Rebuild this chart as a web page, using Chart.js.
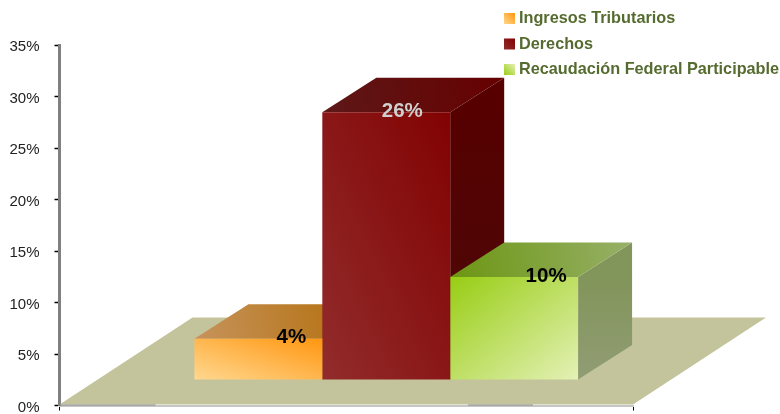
<!DOCTYPE html>
<html>
<head>
<meta charset="utf-8">
<title>Recaudación</title>
<script src="https://cdn.jsdelivr.net/npm/chart.js@4"></script>
<style>
html, body { margin: 0; padding: 0; background: #fff; }
canvas { display: block; }
</style>
</head>
<body>
<canvas id="chart" width="780" height="414"></canvas>
<script>
var categories = [''];
var seriesNames = ['Ingresos Tributarios', 'Derechos', 'Recaudación Federal Participable'];
var seriesValues = [4, 26, 10];
var yTicks = [0, 5, 10, 15, 20, 25, 30, 35];

// face colours, each pair runs from the first corner of the face to the opposite one
var frontColors = [['#ffd890', '#ff9610'], ['#922c2c', '#820202'], ['#98cd14', '#e4f1b6']];
var frontFlip = [true, true, false];
var topColors = [['#c6935c', '#b26c04'], ['#5e1818', '#660000'], ['#6c9612', '#97b068']];
var sideColors = [['#a86a10', '#a86a10'], ['#560000', '#4c0a0a'], ['#82955a', '#919c74']];
var labelColors = ['#000000', '#cfcfcf', '#000000'];
var labelShift = [33, 16, 32];
var axisFont = { family: '"Liberation Sans", Arial, sans-serif', size: 15 };

// how far the bars stand back on the floor, and how deep each bar is
var standX = 40, standY = -25.5;
var depthX = 54, depthY = -34.5;
var floorX = 133, floorY = -87;
var groupShare = 384 / 574;

function grad(ctx, x0, y0, x1, y1, colors) {
    var g = ctx.createLinearGradient(x0, y0, x1, y1);
    g.addColorStop(0, colors[0]);
    g.addColorStop(1, colors[1]);
    return g;
}

function poly(ctx, pts, fill) {
    ctx.beginPath();
    ctx.moveTo(pts[0][0], pts[0][1]);
    for (var i = 1; i < pts.length; i++) ctx.lineTo(pts[i][0], pts[i][1]);
    ctx.closePath();
    ctx.fillStyle = fill;
    ctx.fill();
}

// corner to corner gradient, the two other corners get the middle colour
function cornerGrad(ctx, x, y, w, h, flip, colors) {
    var k = w * h / (w * w + h * h);
    var dx = h * k, dy = (flip ? -w : w) * k;
    var cx = x + w / 2, cy = y + h / 2;
    return grad(ctx, cx - dx, cy - dy, cx + dx, cy + dy, colors);
}

function frontFill(c) {
    var i = c.datasetIndex;
    var xs = c.chart.scales.x, ys = c.chart.scales.y;
    // the scales are not placed yet on the first pass
    if (!xs || !ys || !xs.width) return frontColors[i][1];
    var w = xs.width * groupShare / 3;
    var x0 = xs.getPixelForTick(0) - 1.5 * w + i * w;
    var top = ys.getPixelForValue(seriesValues[i]);
    var base = ys.getPixelForValue(0);
    if (!isFinite(x0) || !isFinite(top)) return frontColors[i][1];
    return cornerGrad(c.chart.ctx, x0, top, w, base - top, frontFlip[i], frontColors[i]);
}

var solidBars = {
    id: 'solidBars',
    beforeDatasetsDraw: function (chart) {
        var ctx = chart.ctx, a = chart.chartArea;
        // floor
        var y0 = a.bottom - 1;
        poly(ctx, [[a.left, y0], [a.right, y0], [a.right + floorX, y0 + floorY], [a.left + floorX, y0 + floorY]], '#c3c49c');
        ctx.fillStyle = '#8c8c8c';
        ctx.fillRect(a.left, a.bottom - 1, 96, 1);
        ctx.fillRect(468, a.bottom - 1, 65, 1);

        ctx.save();
        ctx.translate(standX, standY);
        // top and side faces go in first, left to right
        chart.data.datasets.forEach(function (ds, i) {
            var el = chart.getDatasetMeta(i).data[0];
            var x0 = el.x - el.width / 2, x1 = el.x + el.width / 2;
            poly(ctx, [[x1, el.y], [x1 + depthX, el.y + depthY], [x1 + depthX, el.base + depthY], [x1, el.base]],
                grad(ctx, x1, el.y, x1, el.base, sideColors[i]));
            poly(ctx, [[x0, el.y], [x1, el.y], [x1 + depthX, el.y + depthY], [x0 + depthX, el.y + depthY]],
                grad(ctx, x0, el.y, x1 + depthX, el.y + depthY, topColors[i]));
        });
    },
    afterDatasetsDraw: function (chart) {
        var ctx = chart.ctx;
        // value labels sit on the upper front edge
        ctx.font = 'bold 20.5px "Liberation Sans", Arial, sans-serif';
        ctx.textAlign = 'center';
        ctx.textBaseline = 'middle';
        chart.data.datasets.forEach(function (ds, i) {
            var el = chart.getDatasetMeta(i).data[0];
            ctx.fillStyle = labelColors[i];
            ctx.fillText(seriesValues[i] + '%', el.x + labelShift[i], el.y - 1);
        });
        ctx.restore();

        // legend
        ctx.font = 'bold 16.25px "Liberation Sans", Arial, sans-serif';
        ctx.textAlign = 'left';
        ctx.textBaseline = 'middle';
        seriesNames.forEach(function (name, i) {
            var y = 13 + i * 25.5;
            ctx.fillStyle = grad(ctx, 504, y + 11, 515, y, frontColors[i]);
            ctx.fillRect(504, y, 11, 11);
            ctx.fillStyle = '#556b2f';
            ctx.fillText(name, 519, y + 6);
        });
    }
};

new Chart(document.getElementById('chart'), {
    type: 'bar',
    data: {
        labels: categories,
        datasets: seriesNames.map(function (name, i) {
            return {
                label: name,
                data: [seriesValues[i]],
                backgroundColor: frontFill,
                borderWidth: 0,
                categoryPercentage: groupShare,
                barPercentage: 1
            };
        })
    },
    options: {
        responsive: false,
        animation: false,
        layout: { padding: { left: 0, top: 45, right: 147, bottom: 0 } },
        plugins: { legend: { display: false }, tooltip: { enabled: false } },
        scales: {
            x: {
                grid: { offset: true, drawOnChartArea: false, tickColor: '#000', tickLength: 5, tickWidth: 1 },
                border: { color: '#c6c6c6', width: 2 },
                ticks: { display: false },
                afterFit: function (s) { s.height = 8.5; }
            },
            y: {
                min: yTicks[0],
                max: yTicks[yTicks.length - 1],
                grid: { drawOnChartArea: false, tickColor: '#000', tickLength: 5, tickWidth: 1.5 },
                border: { color: '#808080', width: 3 },
                ticks: {
                    stepSize: 5,
                    padding: 15,
                    labelOffset: 2,
                    color: '#222',
                    font: axisFont,
                    callback: function (v) { return v + '%'; }
                },
                afterFit: function (s) {
                    s.width = 59.5;
                    s.paddingTop = 0;
                    s.paddingBottom = 0;
                }
            }
        }
    },
    plugins: [solidBars]
});
</script>
</body>
</html>
